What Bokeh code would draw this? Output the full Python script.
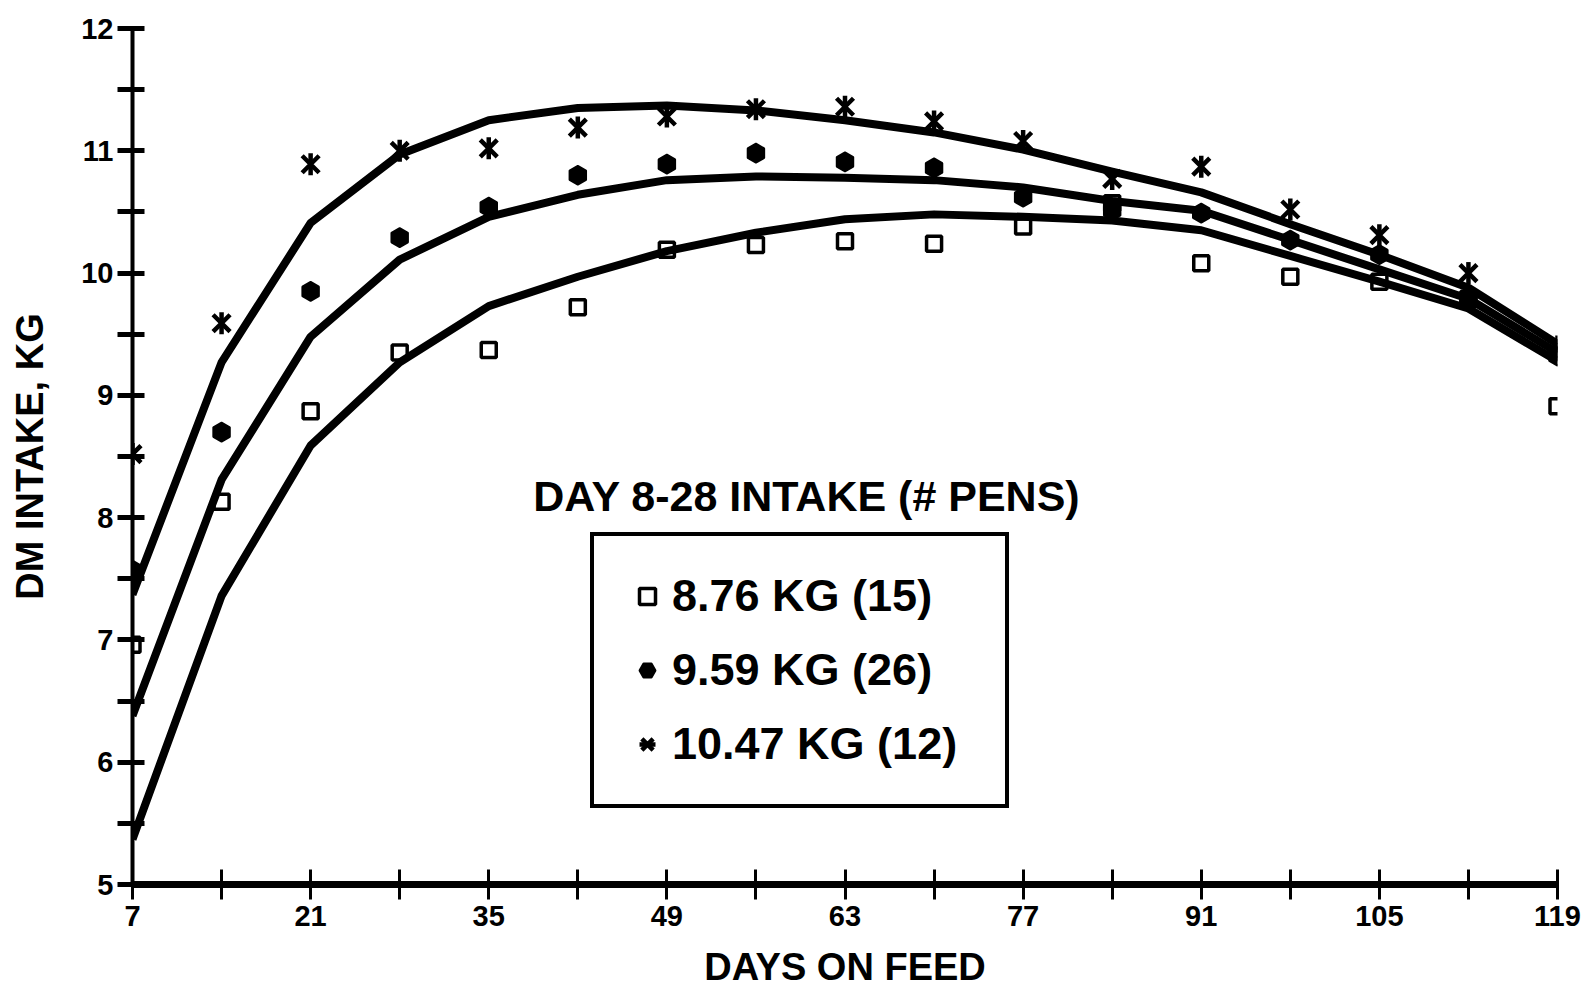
from bokeh.plotting import figure
from bokeh.models import Range1d, FixedTicker, Legend, LegendItem, Label, ColumnDataSource
from bokeh.embed import file_html
from bokeh.resources import INLINE
import math

days = [7, 14, 21, 28, 35, 42, 49, 56, 63, 70, 77, 84, 91, 98, 105, 112, 119]

obs_876 = [6.96, 8.13, 8.87, 9.35, 9.37, 9.72, 10.19, 10.23, 10.26, 10.24, 10.38, 10.57, 10.08, 9.97, 9.93, 9.79, 8.91]
obs_959 = [7.57, 8.70, 9.85, 10.29, 10.54, 10.80, 10.89, 10.98, 10.91, 10.86, 10.62, 10.51, 10.49, 10.27, 10.15, 9.79, 9.32]
obs_1047 = [8.52, 9.59, 10.89, 11.00, 11.02, 11.19, 11.28, 11.34, 11.36, 11.24, 11.08, 10.77, 10.87, 10.52, 10.31, 10.00, 9.40]

fit_876 = [5.37, 7.36, 8.59, 9.27, 9.73, 9.97, 10.18, 10.33, 10.44, 10.48, 10.46, 10.43, 10.35, 10.14, 9.93, 9.71, 9.28]
fit_959 = [6.38, 8.31, 9.48, 10.11, 10.46, 10.64, 10.76, 10.79, 10.78, 10.76, 10.70, 10.59, 10.51, 10.27, 10.03, 9.79, 9.35]
fit_1047 = [7.37, 9.27, 10.41, 10.97, 11.25, 11.35, 11.37, 11.33, 11.25, 11.15, 11.01, 10.83, 10.66, 10.40, 10.15, 9.88, 9.42]

labels = ["8.76 KG (15)", "9.59 KG (26)", "10.47 KG (12)"]
legend_title = "DAY 8-28 INTAKE (# PENS)"
x_title = "DAYS ON FEED"
y_title = "DM INTAKE, KG"

x_major = [7, 21, 35, 49, 63, 77, 91, 105, 119]
x_minor = [14, 28, 42, 56, 70, 84, 98, 112]
y_major = [5, 6, 7, 8, 9, 10, 11, 12]
y_minor = [5.5, 6.5, 7.5, 8.5, 9.5, 10.5, 11.5]

AX_FONT = "Liberation Sans"
LG_FONT = "Liberation Sans"

src = ColumnDataSource(dict(d=days, s1=obs_876, s2=obs_959, s3=obs_1047,
                            f1=fit_876, f2=fit_959, f3=fit_1047))

p = figure(width=1596, height=990, x_range=Range1d(7, 119), y_range=Range1d(5, 12),
           output_backend="svg", toolbar_location=None,
           min_border_left=132, min_border_right=39, min_border_top=28, min_border_bottom=104)
p.outline_line_color = None
p.xgrid.visible = False
p.ygrid.visible = False
p.background_fill_color = "white"
p.border_fill_color = "white"

for f in ["f1", "f2", "f3"]:
    p.line("d", f, source=src, line_color="black", line_width=8, line_join="round")

r_sq = p.scatter("d", "s1", source=src, marker="square", size=15, fill_color="white",
                 fill_alpha=0, line_color="black", line_width=3.5)
r_di = p.scatter("d", "s2", source=src, marker="hex", size=19, angle=math.pi / 6,
                 fill_color="black", line_color="black", line_width=2)
r_st1 = p.scatter("d", "s3", source=src, marker="x", size=24, line_color="black", line_width=4.5)
r_st2 = p.scatter("d", "s3", source=src, marker="dash", size=22, angle=math.pi / 2,
                  line_color="black", line_width=4.5)

# axes
for ax in [p.xaxis[0], p.yaxis[0]]:
    ax.axis_line_color = "black"
    ax.major_tick_line_color = "black"
    ax.minor_tick_line_color = "black"
    ax.major_label_text_font = AX_FONT
    ax.major_label_text_font_style = "bold"
    ax.major_label_text_color = "black"
    ax.axis_label_text_font = AX_FONT
    ax.axis_label_text_font_style = "bold"
    ax.axis_label_text_color = "black"

xa = p.xaxis[0]
xa.ticker = FixedTicker(ticks=x_major, minor_ticks=x_minor)
xa.axis_line_width = 7
xa.major_tick_line_width = 3
xa.minor_tick_line_width = 3
xa.major_tick_in = 15
xa.major_tick_out = 15
xa.minor_tick_in = 15
xa.minor_tick_out = 15
xa.major_label_text_font_size = "29px"
xa.major_label_standoff = 6
xa.axis_label = x_title
xa.axis_label_text_font_size = "38px"
xa.axis_label_standoff = 17

ya = p.yaxis[0]
ya.ticker = FixedTicker(ticks=y_major, minor_ticks=y_minor)
ya.axis_line_width = 4
ya.major_tick_line_width = 5
ya.minor_tick_line_width = 5
ya.major_tick_in = 12
ya.major_tick_out = 15
ya.minor_tick_in = 12
ya.minor_tick_out = 15
ya.major_label_text_font_size = "29px"
ya.major_label_standoff = 4
ya.axis_label = y_title
ya.axis_label_text_font_size = "38px"
ya.axis_label_standoff = 27

title_lbl = Label(x=60, y=8.18, text=legend_title, text_align="center", text_baseline="middle",
                  text_font=LG_FONT, text_font_style="bold", text_font_size="43px",
                  text_color="black")
p.add_layout(title_lbl)

legend = Legend(items=[LegendItem(label=labels[0], renderers=[r_sq]),
                       LegendItem(label=labels[1], renderers=[r_di]),
                       LegendItem(label=labels[2], renderers=[r_st1, r_st2])],
                location=(458, 76))
legend.border_line_color = "black"
legend.border_line_alpha = 1.0
legend.border_line_width = 4
legend.background_fill_color = "white"
legend.background_fill_alpha = 1.0
legend.label_text_font = LG_FONT
legend.label_text_font_style = "bold"
legend.label_text_font_size = "45px"
legend.label_text_color = "black"
legend.glyph_width = 40
legend.glyph_height = 40
legend.label_height = 54
legend.label_width = 300
legend.spacing = 20
legend.padding = 33
legend.label_standoff = 5
legend.margin = 0
p.add_layout(legend)

open("out.html", "w").write(file_html(p, INLINE))
